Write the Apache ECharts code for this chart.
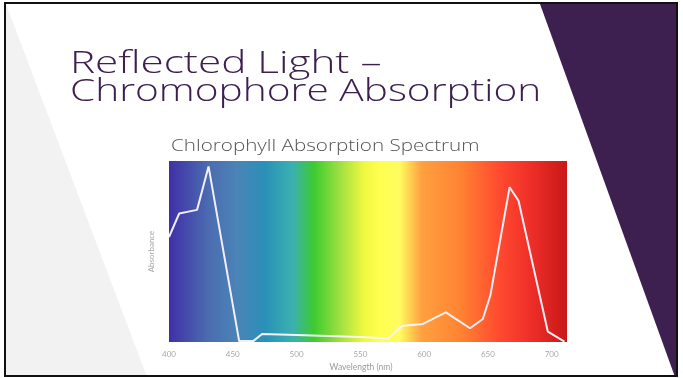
<!DOCTYPE html>
<html>
<head>
<meta charset="utf-8">
<script src="https://cdn.jsdelivr.net/npm/echarts@6/dist/echarts.min.js"></script>
<style>
  html, body { margin: 0; padding: 0; background: #ffffff; }
  #chart { width: 683px; height: 378px; }
</style>
</head>
<body>
<div id="chart"></div>
<script>
// Chlorophyll absorption spectrum: wavelength (nm) vs relative absorbance
const wavelength = [400, 408, 422, 431, 455, 466, 473, 500, 550, 572, 583, 599, 617, 636, 646, 652, 667, 674, 697, 710];
const absorbance = [0.58, 0.71, 0.73, 0.97, 0.005, 0.005, 0.044, 0.038, 0.027, 0.02, 0.09, 0.10, 0.164, 0.076, 0.127, 0.26, 0.855, 0.78, 0.057, 0.002];
const xTicks = [400, 450, 500, 550, 600, 650, 700];

const slideTitle = ['Reflected Light –', 'Chromophore Absorption'];
const chartTitle = 'Chlorophyll Absorption Spectrum';

// visible-light colours behind the plot, left (violet) to right (red)
const spectrumStops = [
  [0.00, '#4030a8'], [0.10, '#4b6cb0'], [0.17, '#4a84b6'], [0.24, '#2a90b8'],
  [0.31, '#3ab0b0'], [0.365, '#3ecb30'], [0.43, '#a0e040'], [0.49, '#f0f840'],
  [0.53, '#ffff50'], [0.58, '#fffc60'], [0.605, '#ffd050'], [0.635, '#ffa040'],
  [0.73, '#ff8432'], [0.83, '#ff4a30'], [0.91, '#ee2e28'], [1.00, '#c81818']
];

const chart = echarts.init(document.getElementById('chart'), null, { renderer: 'canvas' });
const purple = '#3d2050';
const labelFont = 'Lato, "Open Sans", sans-serif';

chart.setOption({
  animation: false,
  backgroundColor: '#ffffff',
  graphic: [
    { type: 'polygon', z: -5, shape: { points: [[6, 4], [147, 377], [6, 377]] }, style: { fill: '#f2f2f2' } },
    { type: 'polygon', z: -5, shape: { points: [[540, 4], [677, 4], [677, 377], [675, 377]] }, style: { fill: purple } },
    { type: 'rect', z: 10, shape: { x: 5, y: 3, width: 672, height: 373 }, style: { fill: 'none', stroke: '#111', lineWidth: 2 } },
    { type: 'text', x: 70, y: 64, scaleX: 1.32,
      style: { text: slideTitle[0], font: '300 32px "Open Sans", sans-serif', fill: purple, textVerticalAlign: 'middle' } },
    { type: 'text', x: 70, y: 92, scaleX: 1.27,
      style: { text: slideTitle[1], font: '300 32px "Open Sans", sans-serif', fill: purple, textVerticalAlign: 'middle' } },
    { type: 'text', x: 171, y: 146, scaleX: 1.29,
      style: { text: chartTitle, font: '300 16px "Open Sans", sans-serif', fill: '#555555', textVerticalAlign: 'middle' } }
  ],
  grid: {
    left: 169, right: 116, top: 161, bottom: 36,
    show: true, borderWidth: 0,
    backgroundColor: new echarts.graphic.LinearGradient(0, 0, 1, 0,
      spectrumStops.map(s => ({ offset: s[0], color: s[1] })))
  },
  xAxis: {
    type: 'value', min: 400, max: 712, interval: 50,
    name: 'Wavelength (nm)', nameLocation: 'middle', nameGap: 21,
    nameTextStyle: { color: '#9a9a9a', fontSize: 8.5, fontFamily: labelFont, padding: [0, 14, 0, 0] },
    axisLine: { show: false }, axisTick: { show: false }, splitLine: { show: false },
    axisLabel: {
      color: '#a8a8a8', fontSize: 8, fontFamily: labelFont, margin: 8,
      showMaxLabel: false,
      formatter: v => (xTicks.indexOf(v) >= 0 ? String(v) : '')
    }
  },
  yAxis: {
    type: 'value', min: 0, max: 1,
    name: 'Absorbance', nameLocation: 'middle', nameGap: 14,
    nameTextStyle: { color: '#a8a8a8', fontSize: 8, fontFamily: labelFont },
    axisLine: { show: false }, axisTick: { show: false }, splitLine: { show: false },
    axisLabel: { show: false }
  },
  series: [{
    type: 'line',
    data: wavelength.map((w, i) => [w, absorbance[i]]),
    symbol: 'none',
    smooth: false,
    lineStyle: { color: 'rgba(250,246,255,0.95)', width: 2 }
  }]
});
</script>
</body>
</html>
